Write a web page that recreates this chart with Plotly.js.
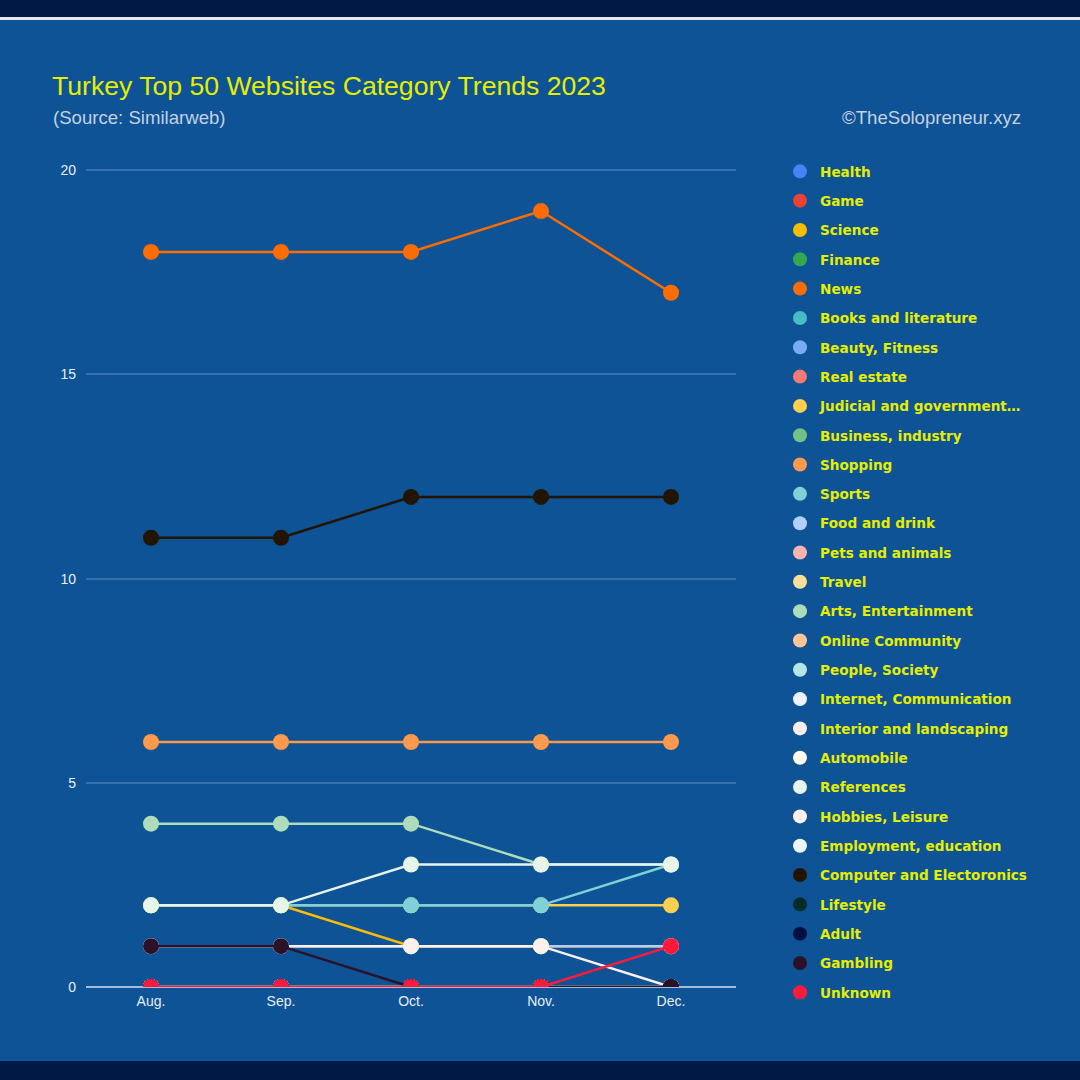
<!DOCTYPE html>
<html>
<head>
<meta charset="utf-8">
<script src="https://cdn.plot.ly/plotly-3.0.1.min.js"></script>
<style>html,body{margin:0;padding:0;background:#0D5395;}#chart{width:1080px;height:1080px;}</style>
</head>
<body>
<div id="chart"></div>
<script>
// ---- data ----
const months = ["Aug.", "Sep.", "Oct.", "Nov.", "Dec."];
const categories = ["Health","Game","Science","Finance","News","Books and literature","Beauty, Fitness","Real estate","Judicial and government…","Business, industry","Shopping","Sports","Food and drink","Pets and animals","Travel","Arts, Entertainment","Online Community","People, Society","Internet, Communication","Interior and landscaping","Automobile","References","Hobbies, Leisure","Employment, education","Computer and Electoronics","Lifestyle","Adult","Gambling","Unknown"];
const colors = ["#4285F4","#EA4335","#FBBC04","#34A853","#FF6D01","#46BDC6","#7BAAF7","#F07B72","#FCD04F","#71C287","#FF994D","#7ED1D7","#B3CEFB","#F7B4AE","#FDDE99","#AEDCBA","#FFC599","#B5E5E8","#ECF3FE","#FDECEA","#FFF8EC","#E6F4EA","#FEF0EC","#E9F7F8","#231400","#062C2A","#001040","#2B1228","#FF1A3D"];

const health       = [0, 0, 0, 0, 0];
const game         = [0, 0, 0, 0, 0];
const science      = [2, 2, 1, 1, 1];
const finance      = [0, 0, 0, 0, 0];
const news         = [18, 18, 18, 19, 17];
const books        = [0, 0, 0, 0, 0];
const beauty       = [0, 0, 0, 0, 0];
const realEstate   = [0, 0, 0, 0, 0];
const judicial     = [2, 2, 2, 2, 2];
const business     = [0, 0, 0, 0, 0];
const shopping     = [6, 6, 6, 6, 6];
const sports       = [2, 2, 2, 2, 3];
const food         = [1, 1, 1, 1, 1];
const pets         = [0, 0, 0, 0, 0];
const travel       = [0, 0, 0, 0, 0];
const arts         = [4, 4, 4, 3, 3];
const online       = [0, 0, 0, 0, 0];
const people       = [0, 0, 0, 0, 0];
const internet     = [0, 0, 0, 0, 0];
const interior     = [0, 0, 0, 0, 0];
const automobile   = [0, 0, 0, 0, 0];
const references   = [2, 2, 3, 3, 3];
const hobbies      = [1, 1, 1, 1, 0];
const employment   = [0, 0, 0, 0, 0];
const computer     = [11, 11, 12, 12, 12];
const lifestyle    = [0, 0, 0, 0, 0];
const adult        = [0, 0, 0, 0, 0];
const gambling     = [1, 1, 0, 0, 0];
const unknown      = [0, 0, 0, 0, 1];

const series = [health, game, science, finance, news, books, beauty, realEstate, judicial, business, shopping, sports, food, pets, travel, arts, online, people, internet, interior, automobile, references, hobbies, employment, computer, lifestyle, adult, gambling, unknown];

// ---- traces ----
const traces = [];
series.forEach((vals, i) => {
  traces.push({
    type: "scatter", mode: "lines+markers",
    x: months, y: vals, name: categories[i],
    line: {color: colors[i], width: 2.5},
    marker: {color: colors[i], size: 16},
    showlegend: false, hoverinfo: "x+y+name"
  });
});
categories.forEach((c, i) => {
  traces.push({
    type: "scatter", mode: "markers",
    x: [null], y: [null], name: c, legendgroup: "g" + i,
    marker: {color: colors[i], size: 14},
    showlegend: true
  });
});

// plot area in px: x 86..736, y 169..987
const L = 86, R = 736, T = 169, B = 987;
const px = (x) => (x - L) / (R - L);
const py = (y) => (B - y) / (B - T);

const layout = {
  width: 1080, height: 1080,
  paper_bgcolor: "#0D5395", plot_bgcolor: "#0D5395",
  margin: {l: L, r: 1080 - R, t: T, b: 1080 - B, pad: 0},
  title: {
    text: "Turkey Top 50 Websites Category Trends 2023",
    font: {family: "Liberation Sans, Arial, sans-serif", size: 26.6, color: "#E6EE00"},
    xref: "container", yref: "container", x: 52 / 1080, xanchor: "left",
    y: 1 - 86 / 1080, yanchor: "middle"
  },
  xaxis: {
    type: "category", range: [-0.5, 4.5], showgrid: false, zeroline: false, showline: false,
    tickfont: {family: "Liberation Sans, Arial, sans-serif", size: 14, color: "#E8EEF8"},
    ticks: "", ticklabelstandoff: 4, fixedrange: true
  },
  yaxis: {
    range: [0, 20.03], tickvals: [0, 5, 10, 15, 20], showgrid: true, gridcolor: "#3A72AD", gridwidth: 1.5,
    zeroline: true, zerolinecolor: "#A3BEDD", zerolinewidth: 2,
    tickfont: {family: "Liberation Sans, Arial, sans-serif", size: 14, color: "#E8EEF8"},
    ticks: "", ticklabelstandoff: 9, fixedrange: true
  },
  legend: {
    x: px(780), xanchor: "left", y: py(156), yanchor: "top",
    font: {family: "DejaVu Sans, sans-serif", size: 13.6, color: "#E6EE00", weight: "bold"},
    bgcolor: "rgba(0,0,0,0)", traceorder: "grouped", tracegroupgap: 8.64,
    maxheight: 1000, itemclick: false, itemdoubleclick: false
  },
  annotations: [
    {text: "(Source: Similarweb)", xref: "paper", yref: "paper", x: px(51), y: py(118),
     xanchor: "left", yanchor: "middle", showarrow: false,
     font: {family: "Liberation Sans, Arial, sans-serif", size: 18.6, color: "#C5D0E2"}},
    {text: "©TheSolopreneur.xyz", xref: "paper", yref: "paper", x: px(1023), y: py(118),
     xanchor: "right", yanchor: "middle", showarrow: false,
     font: {family: "Liberation Sans, Arial, sans-serif", size: 18.6, color: "#C5D0E2"}}
  ],
  shapes: [
    {type: "rect", xref: "paper", yref: "paper", x0: px(-5), x1: px(1085), y0: py(-5), y1: py(17),
     fillcolor: "#001A46", line: {width: 0}, layer: "below"},
    {type: "rect", xref: "paper", yref: "paper", x0: px(-5), x1: px(1085), y0: py(17), y1: py(20),
     fillcolor: "#E4E8EE", line: {width: 0}, layer: "below"},
    {type: "rect", xref: "paper", yref: "paper", x0: px(-5), x1: px(1085), y0: py(1061), y1: py(1085),
     fillcolor: "#001A46", line: {width: 0}, layer: "below"}
  ],
  hovermode: "closest"
};

Plotly.newPlot("chart", traces, layout, {displayModeBar: false});
</script>
</body>
</html>
